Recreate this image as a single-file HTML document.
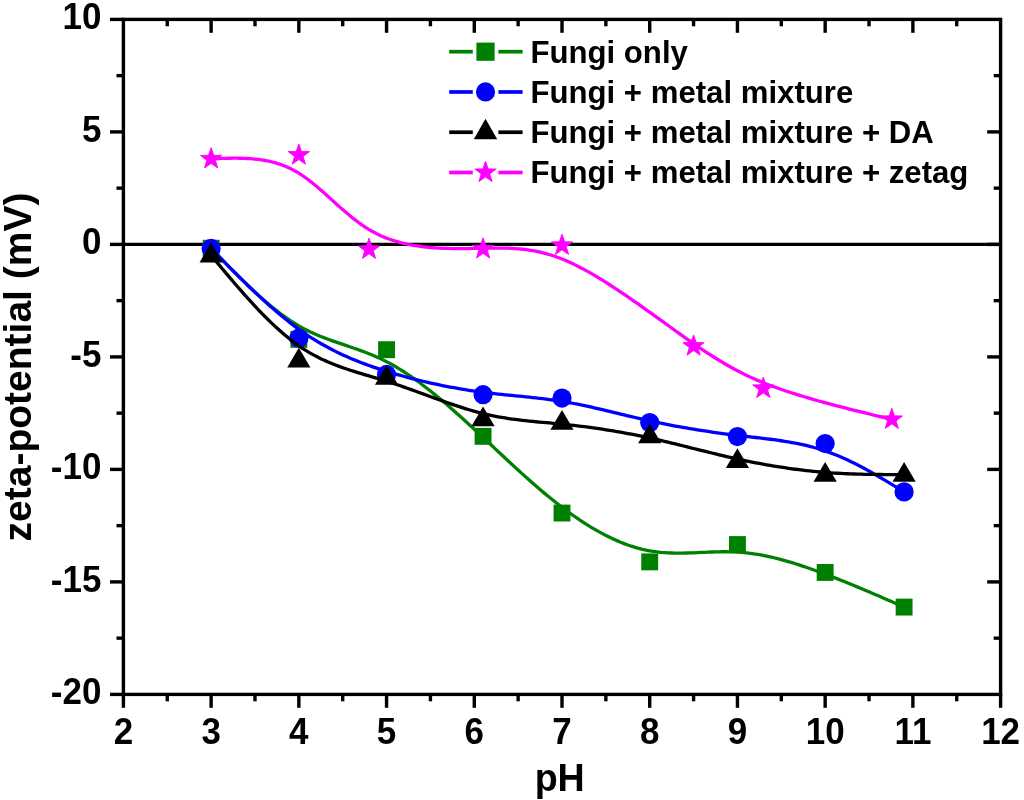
<!DOCTYPE html>
<html><head><meta charset="utf-8"><title>zeta-potential vs pH</title>
<style>
html,body{margin:0;padding:0;background:#fff;}
svg{display:block;font-family:"Liberation Sans",Arial,sans-serif;font-weight:bold;fill:#000;}
.tick{font-size:35px;}
.title{font-size:37.6px;}
.leg{font-size:31.17px;}
</style></head><body>
<svg width="1024" height="800" viewBox="0 0 1024 800">
<rect width="1024" height="800" fill="#fff"/>

<g stroke="#000" stroke-width="3.4" fill="none" stroke-linecap="butt">
<rect x="123.4" y="19.4" width="877.2" height="675.0"/>
<line x1="123.4" y1="244.4" x2="1000.6" y2="244.4"/>
<line x1="123.40" y1="694.4" x2="123.40" y2="707.8"/>
<line x1="167.26" y1="694.4" x2="167.26" y2="701.3"/>
<line x1="167.26" y1="19.4" x2="167.26" y2="26.299999999999997"/>
<line x1="211.12" y1="694.4" x2="211.12" y2="707.8"/>
<line x1="211.12" y1="19.4" x2="211.12" y2="32.8"/>
<line x1="254.98" y1="694.4" x2="254.98" y2="701.3"/>
<line x1="254.98" y1="19.4" x2="254.98" y2="26.299999999999997"/>
<line x1="298.84" y1="694.4" x2="298.84" y2="707.8"/>
<line x1="298.84" y1="19.4" x2="298.84" y2="32.8"/>
<line x1="342.70" y1="694.4" x2="342.70" y2="701.3"/>
<line x1="342.70" y1="19.4" x2="342.70" y2="26.299999999999997"/>
<line x1="386.56" y1="694.4" x2="386.56" y2="707.8"/>
<line x1="386.56" y1="19.4" x2="386.56" y2="32.8"/>
<line x1="430.42" y1="694.4" x2="430.42" y2="701.3"/>
<line x1="430.42" y1="19.4" x2="430.42" y2="26.299999999999997"/>
<line x1="474.28" y1="694.4" x2="474.28" y2="707.8"/>
<line x1="474.28" y1="19.4" x2="474.28" y2="32.8"/>
<line x1="518.14" y1="694.4" x2="518.14" y2="701.3"/>
<line x1="518.14" y1="19.4" x2="518.14" y2="26.299999999999997"/>
<line x1="562.00" y1="694.4" x2="562.00" y2="707.8"/>
<line x1="562.00" y1="19.4" x2="562.00" y2="32.8"/>
<line x1="605.86" y1="694.4" x2="605.86" y2="701.3"/>
<line x1="605.86" y1="19.4" x2="605.86" y2="26.299999999999997"/>
<line x1="649.72" y1="694.4" x2="649.72" y2="707.8"/>
<line x1="649.72" y1="19.4" x2="649.72" y2="32.8"/>
<line x1="693.58" y1="694.4" x2="693.58" y2="701.3"/>
<line x1="693.58" y1="19.4" x2="693.58" y2="26.299999999999997"/>
<line x1="737.44" y1="694.4" x2="737.44" y2="707.8"/>
<line x1="737.44" y1="19.4" x2="737.44" y2="32.8"/>
<line x1="781.30" y1="694.4" x2="781.30" y2="701.3"/>
<line x1="781.30" y1="19.4" x2="781.30" y2="26.299999999999997"/>
<line x1="825.16" y1="694.4" x2="825.16" y2="707.8"/>
<line x1="825.16" y1="19.4" x2="825.16" y2="32.8"/>
<line x1="869.02" y1="694.4" x2="869.02" y2="701.3"/>
<line x1="869.02" y1="19.4" x2="869.02" y2="26.299999999999997"/>
<line x1="912.88" y1="694.4" x2="912.88" y2="707.8"/>
<line x1="912.88" y1="19.4" x2="912.88" y2="32.8"/>
<line x1="956.74" y1="694.4" x2="956.74" y2="701.3"/>
<line x1="956.74" y1="19.4" x2="956.74" y2="26.299999999999997"/>
<line x1="1000.60" y1="694.4" x2="1000.60" y2="707.8"/>
<line x1="123.4" y1="19.40" x2="110.0" y2="19.40"/>
<line x1="123.4" y1="75.65" x2="116.5" y2="75.65"/>
<line x1="1000.6" y1="75.65" x2="993.7" y2="75.65"/>
<line x1="123.4" y1="131.90" x2="110.0" y2="131.90"/>
<line x1="1000.6" y1="131.90" x2="987.2" y2="131.90"/>
<line x1="123.4" y1="188.15" x2="116.5" y2="188.15"/>
<line x1="1000.6" y1="188.15" x2="993.7" y2="188.15"/>
<line x1="123.4" y1="244.40" x2="110.0" y2="244.40"/>
<line x1="1000.6" y1="244.40" x2="987.2" y2="244.40"/>
<line x1="123.4" y1="300.65" x2="116.5" y2="300.65"/>
<line x1="1000.6" y1="300.65" x2="993.7" y2="300.65"/>
<line x1="123.4" y1="356.90" x2="110.0" y2="356.90"/>
<line x1="1000.6" y1="356.90" x2="987.2" y2="356.90"/>
<line x1="123.4" y1="413.15" x2="116.5" y2="413.15"/>
<line x1="1000.6" y1="413.15" x2="993.7" y2="413.15"/>
<line x1="123.4" y1="469.40" x2="110.0" y2="469.40"/>
<line x1="1000.6" y1="469.40" x2="987.2" y2="469.40"/>
<line x1="123.4" y1="525.65" x2="116.5" y2="525.65"/>
<line x1="1000.6" y1="525.65" x2="993.7" y2="525.65"/>
<line x1="123.4" y1="581.90" x2="110.0" y2="581.90"/>
<line x1="1000.6" y1="581.90" x2="987.2" y2="581.90"/>
<line x1="123.4" y1="638.15" x2="116.5" y2="638.15"/>
<line x1="1000.6" y1="638.15" x2="993.7" y2="638.15"/>
<line x1="123.4" y1="694.40" x2="110.0" y2="694.40"/>
</g>
<text class="tick" transform="translate(123.40,744.00) scale(1,1.045)" text-anchor="middle">2</text>
<text class="tick" transform="translate(211.12,744.00) scale(1,1.045)" text-anchor="middle">3</text>
<text class="tick" transform="translate(298.84,744.00) scale(1,1.045)" text-anchor="middle">4</text>
<text class="tick" transform="translate(386.56,744.00) scale(1,1.045)" text-anchor="middle">5</text>
<text class="tick" transform="translate(474.28,744.00) scale(1,1.045)" text-anchor="middle">6</text>
<text class="tick" transform="translate(562.00,744.00) scale(1,1.045)" text-anchor="middle">7</text>
<text class="tick" transform="translate(649.72,744.00) scale(1,1.045)" text-anchor="middle">8</text>
<text class="tick" transform="translate(737.44,744.00) scale(1,1.045)" text-anchor="middle">9</text>
<text class="tick" transform="translate(825.16,744.00) scale(1,1.045)" text-anchor="middle">10</text>
<text class="tick" transform="translate(912.88,744.00) scale(1,1.045)" text-anchor="middle">11</text>
<text class="tick" transform="translate(1000.60,744.00) scale(1,1.045)" text-anchor="middle">12</text>
<text class="tick" transform="translate(101.40,29.20) scale(1,1.045)" text-anchor="end">10</text>
<text class="tick" transform="translate(101.40,141.70) scale(1,1.045)" text-anchor="end">5</text>
<text class="tick" transform="translate(101.40,254.20) scale(1,1.045)" text-anchor="end">0</text>
<text class="tick" transform="translate(101.40,366.70) scale(1,1.045)" text-anchor="end">-5</text>
<text class="tick" transform="translate(101.40,479.20) scale(1,1.045)" text-anchor="end">-10</text>
<text class="tick" transform="translate(101.40,591.70) scale(1,1.045)" text-anchor="end">-15</text>
<text class="tick" transform="translate(101.40,704.20) scale(1,1.045)" text-anchor="end">-20</text>
<text class="title" transform="translate(559.70,790.80) scale(1,1.04)" text-anchor="middle">pH</text>
<text class="title" style="font-size:39px" transform="translate(31,367) rotate(-90)" text-anchor="middle">zeta-potential (mV)</text>
<path d="M211.12,248.22 L214.78,252.02 L218.43,255.81 L222.08,259.59 L225.74,263.35 L229.40,267.09 L233.05,270.80 L236.70,274.47 L240.36,278.10 L244.02,281.69 L247.67,285.22 L251.33,288.69 L254.98,292.10 L258.64,295.44 L262.29,298.71 L265.94,301.89 L269.60,304.99 L273.26,307.99 L276.91,310.89 L280.57,313.69 L284.22,316.37 L287.88,318.94 L291.53,321.39 L295.19,323.70 L298.84,325.89 L302.50,327.93 L306.15,329.85 L309.81,331.65 L313.47,333.34 L317.13,334.94 L320.79,336.46 L324.46,337.90 L328.13,339.28 L331.81,340.61 L335.50,341.91 L339.19,343.18 L342.88,344.43 L346.59,345.68 L350.30,346.94 L354.02,348.21 L357.75,349.52 L361.49,350.87 L365.25,352.27 L369.01,353.73 L372.79,355.27 L376.57,356.90 L380.38,358.62 L384.19,360.46 L388.02,362.41 L391.87,364.50 L395.73,366.71 L399.60,369.04 L403.47,371.49 L407.36,374.04 L411.25,376.69 L415.15,379.44 L419.05,382.28 L422.95,385.20 L426.84,388.20 L430.74,391.26 L434.62,394.40 L438.50,397.58 L442.37,400.82 L446.23,404.11 L450.08,407.43 L453.91,410.79 L457.72,414.17 L461.51,417.57 L465.28,420.99 L469.03,424.42 L472.76,427.84 L476.46,431.26 L480.13,434.67 L483.77,438.07 L487.38,441.45 L490.96,444.80 L494.52,448.14 L498.06,451.45 L501.58,454.74 L505.08,458.00 L508.56,461.24 L512.02,464.45 L515.47,467.63 L518.91,470.78 L522.34,473.90 L525.77,476.99 L529.18,480.04 L532.60,483.06 L536.01,486.04 L539.42,488.98 L542.83,491.88 L546.25,494.74 L549.67,497.56 L553.11,500.34 L556.55,503.07 L560.00,505.76 L563.46,508.40 L566.94,510.99 L570.44,513.53 L573.94,516.02 L577.47,518.45 L581.00,520.82 L584.55,523.12 L588.10,525.36 L591.67,527.54 L595.25,529.64 L598.84,531.67 L602.44,533.63 L606.04,535.50 L609.66,537.30 L613.28,539.01 L616.90,540.63 L620.53,542.16 L624.17,543.60 L627.81,544.94 L631.46,546.19 L635.11,547.34 L638.76,548.38 L642.41,549.31 L646.07,550.14 L649.72,550.85 L653.38,551.45 L657.03,551.94 L660.69,552.34 L664.34,552.64 L668.00,552.86 L671.65,553.01 L675.30,553.09 L678.96,553.11 L682.62,553.08 L686.27,553.01 L689.93,552.91 L693.58,552.78 L697.24,552.63 L700.89,552.47 L704.54,552.31 L708.20,552.15 L711.86,552.01 L715.51,551.89 L719.16,551.80 L722.82,551.75 L726.48,551.74 L730.13,551.79 L733.79,551.91 L737.44,552.09 L741.09,552.35 L744.75,552.68 L748.40,553.09 L752.05,553.57 L755.70,554.11 L759.35,554.72 L762.99,555.39 L766.63,556.12 L770.26,556.91 L773.88,557.75 L777.50,558.64 L781.12,559.58 L784.72,560.57 L788.32,561.59 L791.91,562.66 L795.49,563.76 L799.06,564.90 L802.61,566.07 L806.16,567.26 L809.69,568.49 L813.22,569.73 L816.72,571.00 L820.22,572.28 L823.70,573.57 L827.16,574.88 L830.61,576.20 L834.05,577.53 L837.47,578.88 L840.88,580.23 L844.28,581.59 L847.67,582.96 L851.04,584.33 L854.41,585.72 L857.76,587.11 L861.11,588.51 L864.45,589.92 L867.78,591.33 L871.11,592.74 L874.43,594.17 L877.74,595.59 L881.05,597.02 L884.35,598.46 L887.65,599.89 L890.94,601.33 L894.24,602.77 L897.53,604.21 L900.82,605.66 L904.11,607.10" fill="none" stroke="#008000" stroke-width="3.3" stroke-linejoin="round"/>
<rect x="202.67" y="239.78" width="16.9" height="16.9" fill="#008000"/>
<rect x="290.39" y="330.90" width="16.9" height="16.9" fill="#008000"/>
<rect x="378.11" y="341.25" width="16.9" height="16.9" fill="#008000"/>
<rect x="474.60" y="427.88" width="16.9" height="16.9" fill="#008000"/>
<rect x="553.55" y="504.60" width="16.9" height="16.9" fill="#008000"/>
<rect x="641.27" y="553.42" width="16.9" height="16.9" fill="#008000"/>
<rect x="728.99" y="536.10" width="16.9" height="16.9" fill="#008000"/>
<rect x="816.71" y="564.00" width="16.9" height="16.9" fill="#008000"/>
<rect x="895.66" y="598.65" width="16.9" height="16.9" fill="#008000"/>
<path d="M211.12,248.45 L214.78,252.19 L218.43,255.93 L222.08,259.65 L225.74,263.37 L229.40,267.07 L233.05,270.75 L236.70,274.41 L240.36,278.04 L244.02,281.64 L247.67,285.21 L251.33,288.74 L254.98,292.22 L258.64,295.66 L262.29,299.05 L265.94,302.38 L269.60,305.66 L273.26,308.87 L276.91,312.02 L280.57,315.09 L284.22,318.10 L287.88,321.02 L291.53,323.87 L295.19,326.63 L298.84,329.30 L302.50,331.88 L306.15,334.37 L309.81,336.77 L313.47,339.09 L317.13,341.32 L320.79,343.47 L324.46,345.55 L328.13,347.56 L331.81,349.49 L335.50,351.35 L339.19,353.15 L342.88,354.89 L346.59,356.56 L350.30,358.18 L354.02,359.74 L357.75,361.26 L361.49,362.72 L365.25,364.13 L369.01,365.50 L372.79,366.83 L376.57,368.12 L380.38,369.38 L384.19,370.60 L388.02,371.79 L391.87,372.95 L395.73,374.09 L399.60,375.19 L403.47,376.27 L407.36,377.32 L411.25,378.35 L415.15,379.34 L419.05,380.31 L422.95,381.25 L426.84,382.16 L430.74,383.04 L434.62,383.89 L438.50,384.72 L442.37,385.51 L446.23,386.28 L450.08,387.02 L453.91,387.73 L457.72,388.41 L461.51,389.06 L465.28,389.69 L469.03,390.28 L472.76,390.84 L476.46,391.38 L480.13,391.89 L483.77,392.37 L487.38,392.82 L490.96,393.24 L494.52,393.65 L498.06,394.04 L501.58,394.41 L505.08,394.77 L508.56,395.12 L512.02,395.46 L515.47,395.80 L518.91,396.14 L522.34,396.48 L525.77,396.82 L529.18,397.16 L532.60,397.52 L536.01,397.89 L539.42,398.27 L542.83,398.67 L546.25,399.10 L549.67,399.54 L553.11,400.01 L556.55,400.51 L560.00,401.04 L563.46,401.60 L566.94,402.20 L570.44,402.83 L573.94,403.50 L577.47,404.19 L581.00,404.92 L584.55,405.67 L588.10,406.44 L591.67,407.23 L595.25,408.04 L598.84,408.87 L602.44,409.71 L606.04,410.56 L609.66,411.42 L613.28,412.29 L616.90,413.16 L620.53,414.03 L624.17,414.91 L627.81,415.78 L631.46,416.65 L635.11,417.51 L638.76,418.36 L642.41,419.20 L646.07,420.03 L649.72,420.84 L653.38,421.63 L657.03,422.40 L660.69,423.16 L664.34,423.90 L668.00,424.62 L671.65,425.33 L675.30,426.01 L678.96,426.68 L682.62,427.34 L686.27,427.98 L689.93,428.60 L693.58,429.21 L697.24,429.80 L700.89,430.38 L704.54,430.94 L708.20,431.49 L711.86,432.02 L715.51,432.54 L719.16,433.05 L722.82,433.54 L726.48,434.02 L730.13,434.49 L733.79,434.95 L737.44,435.39 L741.09,435.82 L744.75,436.24 L748.40,436.66 L752.05,437.07 L755.70,437.49 L759.35,437.91 L762.99,438.34 L766.63,438.79 L770.26,439.25 L773.88,439.72 L777.50,440.23 L781.12,440.75 L784.72,441.31 L788.32,441.90 L791.91,442.53 L795.49,443.20 L799.06,443.91 L802.61,444.67 L806.16,445.48 L809.69,446.35 L813.22,447.27 L816.72,448.26 L820.22,449.31 L823.70,450.42 L827.16,451.61 L830.61,452.87 L834.05,454.19 L837.47,455.58 L840.88,457.03 L844.28,458.53 L847.67,460.09 L851.04,461.69 L854.41,463.35 L857.76,465.05 L861.11,466.79 L864.45,468.57 L867.78,470.39 L871.11,472.24 L874.43,474.12 L877.74,476.03 L881.05,477.96 L884.35,479.91 L887.65,481.88 L890.94,483.87 L894.24,485.87 L897.53,487.87 L900.82,489.88 L904.11,491.90" fill="none" stroke="#0000ff" stroke-width="3.3" stroke-linejoin="round"/>
<circle cx="211.12" cy="248.45" r="9.6" fill="#0000ff"/>
<circle cx="298.84" cy="338.22" r="9.6" fill="#0000ff"/>
<circle cx="386.56" cy="374.45" r="9.6" fill="#0000ff"/>
<circle cx="483.05" cy="394.70" r="9.6" fill="#0000ff"/>
<circle cx="562.00" cy="398.07" r="9.6" fill="#0000ff"/>
<circle cx="649.72" cy="422.60" r="9.6" fill="#0000ff"/>
<circle cx="737.44" cy="436.55" r="9.6" fill="#0000ff"/>
<circle cx="825.16" cy="443.53" r="9.6" fill="#0000ff"/>
<circle cx="904.11" cy="491.90" r="9.6" fill="#0000ff"/>
<path d="M211.12,255.43 L214.78,259.80 L218.43,264.17 L222.08,268.53 L225.74,272.87 L229.40,277.18 L233.05,281.46 L236.70,285.71 L240.36,289.91 L244.02,294.05 L247.67,298.15 L251.33,302.17 L254.98,306.13 L258.64,310.01 L262.29,313.81 L265.94,317.52 L269.60,321.13 L273.26,324.64 L276.91,328.05 L280.57,331.33 L284.22,334.50 L287.88,337.54 L291.53,340.45 L295.19,343.22 L298.84,345.84 L302.50,348.31 L306.15,350.63 L309.81,352.82 L313.47,354.88 L317.13,356.82 L320.79,358.65 L324.46,360.38 L328.13,362.01 L331.81,363.55 L335.50,365.01 L339.19,366.40 L342.88,367.73 L346.59,369.00 L350.30,370.23 L354.02,371.41 L357.75,372.57 L361.49,373.70 L365.25,374.82 L369.01,375.93 L372.79,377.05 L376.57,378.17 L380.38,379.31 L384.19,380.48 L388.02,381.69 L391.87,382.93 L395.73,384.21 L399.60,385.53 L403.47,386.87 L407.36,388.24 L411.25,389.63 L415.15,391.04 L419.05,392.45 L422.95,393.87 L426.84,395.29 L430.74,396.71 L434.62,398.13 L438.50,399.53 L442.37,400.91 L446.23,402.27 L450.08,403.61 L453.91,404.92 L457.72,406.19 L461.51,407.43 L465.28,408.62 L469.03,409.76 L472.76,410.85 L476.46,411.88 L480.13,412.85 L483.77,413.75 L487.38,414.60 L490.96,415.38 L494.52,416.11 L498.06,416.78 L501.58,417.41 L505.08,417.99 L508.56,418.52 L512.02,419.02 L515.47,419.49 L518.91,419.92 L522.34,420.33 L525.77,420.71 L529.18,421.07 L532.60,421.41 L536.01,421.74 L539.42,422.06 L542.83,422.37 L546.25,422.68 L549.67,422.98 L553.11,423.30 L556.55,423.61 L560.00,423.94 L563.46,424.29 L566.94,424.65 L570.44,425.03 L573.94,425.42 L577.47,425.84 L581.00,426.27 L584.55,426.72 L588.10,427.18 L591.67,427.67 L595.25,428.17 L598.84,428.70 L602.44,429.24 L606.04,429.80 L609.66,430.37 L613.28,430.97 L616.90,431.58 L620.53,432.22 L624.17,432.87 L627.81,433.54 L631.46,434.23 L635.11,434.94 L638.76,435.67 L642.41,436.42 L646.07,437.19 L649.72,437.97 L653.38,438.78 L657.03,439.61 L660.69,440.45 L664.34,441.30 L668.00,442.17 L671.65,443.05 L675.30,443.94 L678.96,444.84 L682.62,445.74 L686.27,446.65 L689.93,447.56 L693.58,448.48 L697.24,449.39 L700.89,450.31 L704.54,451.22 L708.20,452.12 L711.86,453.02 L715.51,453.92 L719.16,454.80 L722.82,455.67 L726.48,456.53 L730.13,457.37 L733.79,458.20 L737.44,459.01 L741.09,459.80 L744.75,460.58 L748.40,461.33 L752.05,462.06 L755.70,462.78 L759.35,463.47 L762.99,464.14 L766.63,464.80 L770.26,465.43 L773.88,466.04 L777.50,466.63 L781.12,467.20 L784.72,467.74 L788.32,468.27 L791.91,468.77 L795.49,469.25 L799.06,469.71 L802.61,470.15 L806.16,470.56 L809.69,470.96 L813.22,471.32 L816.72,471.67 L820.22,471.99 L823.70,472.29 L827.16,472.56 L830.61,472.81 L834.05,473.04 L837.47,473.25 L840.88,473.44 L844.28,473.61 L847.67,473.76 L851.04,473.90 L854.41,474.02 L857.76,474.12 L861.11,474.21 L864.45,474.29 L867.78,474.35 L871.11,474.41 L874.43,474.45 L877.74,474.49 L881.05,474.52 L884.35,474.54 L887.65,474.55 L890.94,474.56 L894.24,474.57 L897.53,474.57 L900.82,474.57 L904.11,474.57" fill="none" stroke="#000000" stroke-width="3.3" stroke-linejoin="round"/>
<polygon points="211.12,242.73 199.52,262.53 222.72,262.53" fill="#000000"/>
<polygon points="298.84,347.80 287.24,367.60 310.44,367.60" fill="#000000"/>
<polygon points="386.56,364.90 374.96,384.70 398.16,384.70" fill="#000000"/>
<polygon points="483.05,406.52 471.45,426.32 494.65,426.32" fill="#000000"/>
<polygon points="562.00,409.90 550.40,429.70 573.60,429.70" fill="#000000"/>
<polygon points="649.72,423.40 638.12,443.20 661.32,443.20" fill="#000000"/>
<polygon points="737.44,448.15 725.84,467.95 749.04,467.95" fill="#000000"/>
<polygon points="825.16,461.88 813.56,481.68 836.76,481.68" fill="#000000"/>
<polygon points="904.11,461.88 892.51,481.68 915.71,481.68" fill="#000000"/>
<path d="M211.12,158.90 L214.77,158.74 L218.43,158.59 L222.08,158.45 L225.73,158.34 L229.37,158.25 L233.00,158.20 L236.63,158.19 L240.25,158.23 L243.86,158.33 L247.46,158.49 L251.04,158.72 L254.61,159.03 L258.17,159.43 L261.71,159.91 L265.23,160.50 L268.73,161.19 L272.22,162.00 L275.68,162.93 L279.11,163.98 L282.53,165.17 L285.92,166.51 L289.28,167.99 L292.61,169.62 L295.92,171.43 L299.19,173.39 L302.44,175.52 L305.67,177.78 L308.88,180.18 L312.08,182.69 L315.26,185.29 L318.45,187.99 L321.64,190.76 L324.83,193.59 L328.03,196.46 L331.24,199.36 L334.48,202.28 L337.73,205.21 L341.02,208.12 L344.33,211.00 L347.68,213.85 L351.07,216.65 L354.51,219.38 L358.00,222.02 L361.54,224.58 L365.14,227.02 L368.80,229.34 L372.53,231.53 L376.33,233.56 L380.20,235.44 L384.15,237.15 L388.16,238.72 L392.23,240.14 L396.35,241.42 L400.52,242.57 L404.73,243.60 L408.98,244.50 L413.26,245.30 L417.56,245.99 L421.88,246.59 L426.22,247.09 L430.56,247.51 L434.90,247.84 L439.25,248.11 L443.58,248.31 L447.89,248.46 L452.19,248.55 L456.46,248.60 L460.70,248.61 L464.89,248.58 L469.05,248.54 L473.15,248.47 L477.20,248.39 L481.20,248.31 L485.13,248.22 L489.02,248.15 L492.87,248.10 L496.68,248.07 L500.46,248.08 L504.22,248.13 L507.96,248.22 L511.69,248.38 L515.42,248.59 L519.15,248.88 L522.89,249.25 L526.65,249.71 L530.42,250.26 L534.23,250.92 L538.07,251.69 L541.95,252.57 L545.87,253.59 L549.85,254.74 L553.89,256.02 L558.00,257.46 L562.17,259.06 L566.43,260.82 L570.77,262.76 L575.20,264.87 L579.72,267.16 L584.30,269.60 L588.96,272.18 L593.67,274.90 L598.43,277.74 L603.24,280.70 L608.08,283.75 L612.94,286.88 L617.82,290.10 L622.71,293.37 L627.60,296.70 L632.48,300.07 L637.34,303.46 L642.18,306.87 L646.99,310.29 L651.76,313.70 L656.47,317.09 L661.13,320.45 L665.73,323.76 L670.24,327.02 L674.68,330.22 L679.03,333.34 L683.27,336.37 L687.41,339.29 L691.46,342.13 L695.41,344.86 L699.28,347.51 L703.08,350.07 L706.82,352.54 L710.50,354.93 L714.13,357.25 L717.73,359.49 L721.30,361.66 L724.85,363.76 L728.38,365.80 L731.92,367.78 L735.46,369.70 L739.01,371.57 L742.59,373.38 L746.20,375.15 L749.85,376.88 L753.56,378.57 L757.32,380.22 L761.14,381.84 L765.04,383.43 L769.03,384.99 L773.11,386.52 L777.29,388.04 L781.57,389.54 L785.94,391.03 L790.40,392.49 L794.95,393.94 L799.58,395.37 L804.28,396.79 L809.06,398.19 L813.90,399.59 L818.81,400.97 L823.77,402.33 L828.80,403.69 L833.87,405.04 L838.99,406.38 L844.15,407.71 L849.35,409.03 L854.59,410.35 L859.85,411.66 L865.14,412.96 L870.45,414.27 L875.78,415.57 L881.12,416.86 L886.47,418.16 L891.83,419.45" fill="none" stroke="#ff00ff" stroke-width="3.3" stroke-linejoin="round"/>
<polygon points="211.12,147.70 213.75,155.28 221.77,155.44 215.38,160.28 217.70,167.96 211.12,163.38 204.54,167.96 206.86,160.28 200.47,155.44 208.49,155.28" fill="#ff00ff" stroke="#ff00ff" stroke-width="0.9" stroke-linejoin="round"/>
<polygon points="298.84,143.88 301.47,151.45 309.49,151.61 303.10,156.46 305.42,164.14 298.84,159.55 292.26,164.14 294.58,156.46 288.19,151.61 296.21,151.45" fill="#ff00ff" stroke="#ff00ff" stroke-width="0.9" stroke-linejoin="round"/>
<polygon points="369.02,238.15 371.65,245.73 379.67,245.89 373.28,250.73 375.60,258.41 369.02,253.83 362.43,258.41 364.76,250.73 358.36,245.89 366.38,245.73" fill="#ff00ff" stroke="#ff00ff" stroke-width="0.9" stroke-linejoin="round"/>
<polygon points="483.05,237.70 485.69,245.28 493.70,245.44 487.31,250.28 489.64,257.96 483.05,253.38 476.47,257.96 478.79,250.28 472.40,245.44 480.42,245.28" fill="#ff00ff" stroke="#ff00ff" stroke-width="0.9" stroke-linejoin="round"/>
<polygon points="562.00,234.19 564.63,241.77 572.65,241.93 566.26,246.77 568.58,254.45 562.00,249.87 555.42,254.45 557.74,246.77 551.35,241.93 559.37,241.77" fill="#ff00ff" stroke="#ff00ff" stroke-width="0.9" stroke-linejoin="round"/>
<polygon points="693.58,334.90 696.21,342.48 704.23,342.64 697.84,347.48 700.16,355.16 693.58,350.58 687.00,355.16 689.32,347.48 682.93,342.64 690.95,342.48" fill="#ff00ff" stroke="#ff00ff" stroke-width="0.9" stroke-linejoin="round"/>
<polygon points="763.32,377.20 765.95,384.78 773.97,384.94 767.58,389.78 769.90,397.46 763.32,392.88 756.73,397.46 759.06,389.78 752.67,384.94 760.68,384.78" fill="#ff00ff" stroke="#ff00ff" stroke-width="0.9" stroke-linejoin="round"/>
<polygon points="891.83,408.25 894.46,415.83 902.48,415.99 896.09,420.83 898.41,428.51 891.83,423.93 885.24,428.51 887.57,420.83 881.18,415.99 889.19,415.83" fill="#ff00ff" stroke="#ff00ff" stroke-width="0.9" stroke-linejoin="round"/>
<line x1="449.2" y1="51.7" x2="472.8" y2="51.7" stroke="#008000" stroke-width="3.7"/>
<line x1="498.4" y1="51.7" x2="522.6" y2="51.7" stroke="#008000" stroke-width="3.7"/>
<rect x="476.40" y="42.60" width="18.2" height="18.2" fill="#008000"/>
<text class="leg" transform="translate(530.40,62.65) scale(1,1.03)" text-anchor="start">Fungi only</text>
<line x1="449.2" y1="91.97" x2="472.8" y2="91.97" stroke="#0000ff" stroke-width="3.7"/>
<line x1="498.4" y1="91.97" x2="522.6" y2="91.97" stroke="#0000ff" stroke-width="3.7"/>
<circle cx="485.50" cy="91.97" r="9.6" fill="#0000ff"/>
<text class="leg" transform="translate(530.40,102.92) scale(1,1.03)" text-anchor="start">Fungi + metal mixture</text>
<line x1="449.2" y1="132.24" x2="472.8" y2="132.24" stroke="#000000" stroke-width="3.7"/>
<line x1="498.4" y1="132.24" x2="522.6" y2="132.24" stroke="#000000" stroke-width="3.7"/>
<polygon points="485.50,118.84 473.80,139.14 497.20,139.14" fill="#000000"/>
<text class="leg" transform="translate(530.40,143.19) scale(1,1.03)" text-anchor="start">Fungi + metal mixture + DA</text>
<line x1="449.2" y1="172.51" x2="472.8" y2="172.51" stroke="#ff00ff" stroke-width="3.7"/>
<line x1="498.4" y1="172.51" x2="522.6" y2="172.51" stroke="#ff00ff" stroke-width="3.7"/>
<polygon points="485.50,161.31 488.13,168.89 496.15,169.05 489.76,173.89 492.08,181.57 485.50,176.99 478.92,181.57 481.24,173.89 474.85,169.05 482.87,168.89" fill="#ff00ff" stroke="#ff00ff" stroke-width="0.9" stroke-linejoin="round"/>
<text class="leg" transform="translate(530.40,183.46) scale(1,1.03)" text-anchor="start">Fungi + metal mixture + zetag</text>
</svg></body></html>
